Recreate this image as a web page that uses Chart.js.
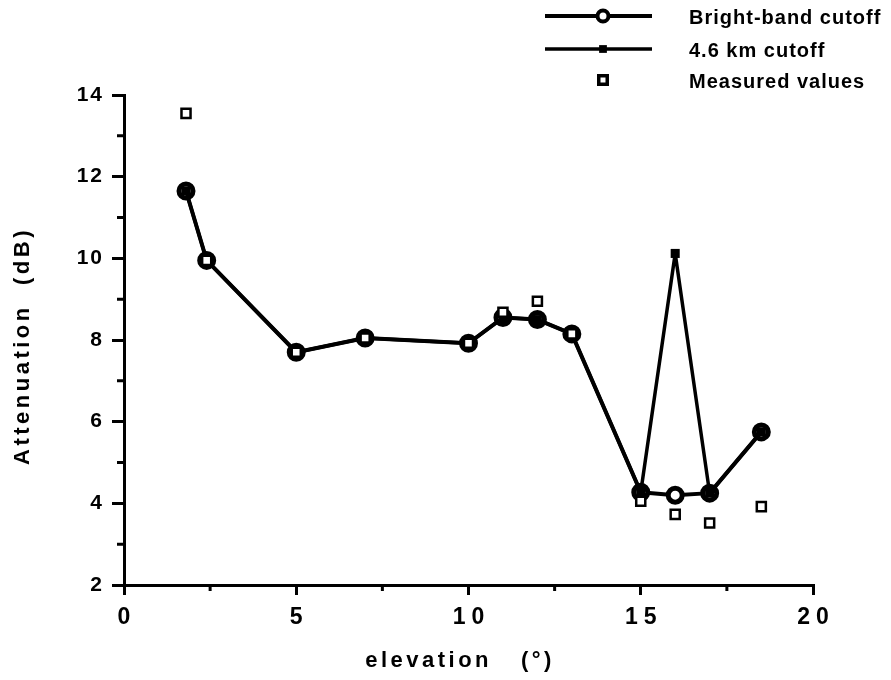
<!DOCTYPE html>
<html>
<head>
<meta charset="utf-8">
<script src="https://cdn.jsdelivr.net/npm/chart.js@4.4.1/dist/chart.umd.min.js"></script>
<style>
  html, body { margin: 0; padding: 0; background: #fff; }
</style>
</head>
<body>
<canvas id="attenChart" width="891" height="680"></canvas>
<script>
// elevation angle (deg) and path attenuation (dB)
const elevation = [1.8, 2.4, 5, 7, 10, 11, 12, 13, 15, 16, 17, 18.5];
const brightBand = [11.65, 9.95, 7.7, 8.05, 7.92, 8.55, 8.5, 8.15, 4.27, 4.2, 4.25, 5.75];
const cutoff46 = [11.65, 9.95, 7.7, 8.05, 7.92, 8.55, 8.5, 8.15, 4.27, 10.12, 4.25, 5.75];
const measured = [13.55, 9.95, 7.7, 8.05, 7.92, 8.68, 8.95, 8.15, 4.05, 3.73, 3.52, 3.92];

const seriesNames = ["Bright-band cutoff", "4.6 km cutoff", "Measured values"];
const xTitle = "elevation   (°)";
const yTitle = "Attenuation  (dB)";

const FONT = '"Liberation Sans", Arial, Helvetica, sans-serif';

const toPoints = (vals) => vals.map((v, i) => ({ x: elevation[i], y: v }));

// a little tracking on the native y tick labels
const spacing = {
  id: "spacing",
  beforeDraw(chart) {
    chart.ctx.letterSpacing = "2px";
  }
};

// minor ticks, x tick labels (spaced), axis titles and the legend
const decorations = {
  id: "decorations",
  afterDraw(chart) {
    const { ctx, chartArea, scales } = chart;
    const x = scales.x;
    const y = scales.y;
    ctx.save();
    ctx.strokeStyle = "#000";
    ctx.fillStyle = "#000";
    ctx.lineWidth = 3;

    ctx.beginPath();
    for (let v = y.min + 1; v < y.max; v += 2) {
      const py = y.getPixelForValue(v);
      ctx.moveTo(chartArea.left - 7, py);
      ctx.lineTo(chartArea.left, py);
    }
    for (let v = x.min + 2.5; v < x.max; v += 5) {
      const px = x.getPixelForValue(v);
      ctx.moveTo(px, chartArea.bottom);
      ctx.lineTo(px, chartArea.bottom + 6);
    }
    ctx.stroke();

    ctx.font = "bold 23px " + FONT;
    ctx.textAlign = "center";
    ctx.textBaseline = "middle";
    ctx.letterSpacing = "6px";
    x.ticks.forEach((t) => {
      ctx.fillText(String(t.value), x.getPixelForValue(t.value) + 3, 618);
    });

    // axis titles
    ctx.font = "bold 22px " + FONT;
    ctx.letterSpacing = "3.5px";
    ctx.fillText(xTitle, 460, 661);
    ctx.save();
    ctx.translate(23, 346);
    ctx.rotate(-Math.PI / 2);
    ctx.fillText(yTitle, 0, 0);
    ctx.restore();

    // legend
    ctx.letterSpacing = "1px";
    ctx.font = "bold 20px " + FONT;
    ctx.textAlign = "left";
    const legendRows = [16, 49, 80];
    chart.data.datasets.forEach((ds, i) => {
      const ly = legendRows[i];
      if (ds.showLine) {
        ctx.lineWidth = ds.borderWidth;
        ctx.beginPath();
        ctx.moveTo(545, ly);
        ctx.lineTo(652, ly);
        ctx.stroke();
      }
      ctx.fillStyle = ds.pointBackgroundColor;
      ctx.strokeStyle = "#000";
      Chart.helpers.drawPoint(ctx, {
        pointStyle: ds.pointStyle,
        radius: ds.legendRadius,
        borderWidth: ds.legendBorder,
        rotation: 0
      }, 603, ly);
      ctx.fillStyle = "#000";
      ctx.fillText(ds.label, 689, ly + 2);
    });
    ctx.restore();
  }
};

new Chart(document.getElementById("attenChart"), {
  type: "scatter",
  data: {
    datasets: [
      {
        label: seriesNames[0],
        data: toPoints(brightBand),
        showLine: true,
        borderColor: "#000",
        borderWidth: 4,
        borderJoinStyle: "round",
        pointStyle: "circle",
        pointRadius: 7,
        pointBorderWidth: 5,
        pointBorderColor: "#000",
        pointBackgroundColor: "#fff",
        legendRadius: 5.5,
        legendBorder: 3.5,
        order: 2
      },
      {
        label: seriesNames[1],
        data: toPoints(cutoff46),
        showLine: true,
        borderColor: "#000",
        borderWidth: 3.5,
        borderJoinStyle: "round",
        pointStyle: "rect",
        pointRadius: 6.4,
        pointBorderWidth: 0,
        pointBackgroundColor: "#000",
        legendRadius: 5.5,
        legendBorder: 0,
        order: 1
      },
      {
        label: seriesNames[2],
        data: toPoints(measured),
        showLine: false,
        pointStyle: "rect",
        pointRadius: 6.4,
        pointBorderWidth: 2.5,
        pointBorderColor: "#000",
        pointBackgroundColor: "#fff",
        legendRadius: 6,
        legendBorder: 2.5,
        order: 0
      }
    ]
  },
  options: {
    responsive: false,
    animation: false,
    devicePixelRatio: 1,
    layout: { padding: { top: 95, right: 78, left: 0, bottom: 0 } },
    plugins: {
      legend: { display: false },
      tooltip: { enabled: false }
    },
    scales: {
      x: {
        type: "linear",
        min: 0,
        max: 20,
        ticks: { stepSize: 5, display: false },
        grid: { drawOnChartArea: false, drawTicks: true, tickLength: 10, color: "#000", lineWidth: 3 },
        border: { display: true, color: "#000", width: 3 },
        afterFit: (scale) => { scale.height = 95; }
      },
      y: {
        min: 2,
        max: 14,
        ticks: {
          stepSize: 2,
          color: "#000",
          padding: 8,
          font: { family: FONT, size: 21, weight: "bold" }
        },
        grid: { drawOnChartArea: false, drawTicks: true, tickLength: 12, color: "#000", lineWidth: 3 },
        border: { display: true, color: "#000", width: 3 },
        afterFit: (scale) => { scale.width = 124; }
      }
    }
  },
  plugins: [spacing, decorations]
});
</script>
</body>
</html>
